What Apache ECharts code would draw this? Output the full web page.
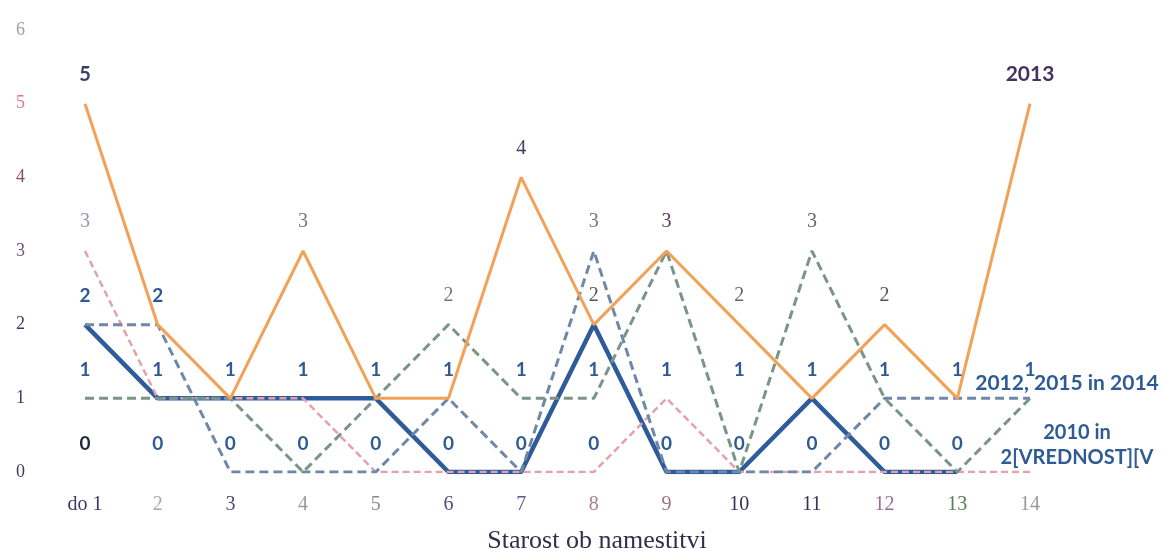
<!DOCTYPE html>
<html>
<head>
<meta charset="utf-8">
<script src="https://cdn.jsdelivr.net/npm/echarts@6/dist/echarts.min.js"></script>
<style>
html,body{margin:0;padding:0;background:#fff;}
#chart{width:1164px;height:551px;}
</style>
</head>
<body>
<div id="chart"></div>
<script>
// ---- data ----
const categories = ['do 1','2','3','4','5','6','7','8','9','10','11','12','13','14'];
const yTicks = ['0','1','2','3','4','5','6'];
const s2010 = [2,1,1,1,1,0,0,2,0,0,1,0,0,null];
const s2011 = [3,1,1,1,0,0,0,0,1,0,0,0,0,0];
const s2012 = [2,2,0,0,0,1,0,3,0,0,0,1,1,1];
const s2013 = [5,2,1,3,1,1,4,2,3,2,1,2,1,5];
const s2014 = [1,1,1,0,1,2,1,1,3,0,3,1,0,1];
const labelRowOnes = [1,1,1,1,1,1,1,1,1,1,1,1,1,1];
const labelRowZeros = [0,0,0,0,0,0,0,0,0,0,0,0,0,null];

// ---- styles (kept separate from data) ----
const xLabelColors = ['#3a3a68','#a8a8a8','#4a4a78','#9a9a9a','#8a8a8a','#5a4a7a','#5a5a8a','#b07a92','#a07084','#343450','#343450','#a06a8a','#5a7a5a','#9a9a9a'];
const yLabelColors = ['#3a3a6a','#3a3a6a','#3a3a6a','#6a5090','#8a4a6a','#d9788a','#a0a0a0'];
const BLUE = '#2f5b95';
const SANS = 'Lato, "Liberation Sans", sans-serif';
const SERIF = '"Liberation Serif", "DejaVu Serif", serif';

const baseLabel = {position:'top', distance:19};
const serifLbl = (c) => ({fontFamily:SERIF, color:c, fontSize:20});
const sansLbl = (c) => ({fontFamily:SANS, fontWeight:'bold', color:c, fontSize:19});

function withLabels(values, spec){
  return values.map((v,i) => spec[i] ? {value:v, label:Object.assign({show:true}, baseLabel, spec[i])} : v);
}

const spec2013 = {
  0: Object.assign(sansLbl('#3b3d6b'), {fontSize:20}),
  3: serifLbl('#777'),
  6: serifLbl('#3b3d6b'),
  7: serifLbl('#555'),
  8: serifLbl('#5a4060'),
  9: serifLbl('#666'),
  11: serifLbl('#5a5060'),
  13: Object.assign(sansLbl('#3f3560'), {formatter:'2013', fontSize:21})
};
const spec2011 = {
  0: serifLbl('#a38cb8'),
  13: Object.assign(sansLbl(BLUE), {formatter:'2010 in\n2[VREDNOST][V', position:'inside', offset:[47,-27], fontSize:20, lineHeight:25, align:'center'})
};
const spec2012 = {
  0: sansLbl(BLUE),
  1: sansLbl(BLUE),
  7: serifLbl('#777'),
  13: Object.assign(sansLbl(BLUE), {formatter:'2012, 2015 in 2014', position:'inside', offset:[37,-15], fontSize:21})
};
const spec2014 = {
  5: serifLbl('#777'),
  10: serifLbl('#666')
};
const specOnes = {};
labelRowOnes.forEach((v,i)=>{ specOnes[i] = sansLbl(BLUE); });
const specZeros = {};
labelRowZeros.forEach((v,i)=>{ if(v!==null) specZeros[i] = sansLbl(i===0 ? '#24283f' : BLUE); });

function lineSeries(name, data, lineStyle, z){
  return {
    name, type:'line', data, z,
    symbol:'circle', symbolSize:0, showAllSymbol:true,
    lineStyle, label:{show:false}, emphasis:{disabled:true},
    connectNulls:false
  };
}

const chart = echarts.init(document.getElementById('chart'), null, {renderer:'canvas'});
chart.setOption({
  animation:false,
  backgroundColor:'#fff',
  title:{
    text:'Starost ob namestitvi', left:592, top:523, textAlign:'center',
    textStyle:{fontFamily:SERIF, fontSize:26, fontWeight:'normal', color:'#352c4a'}
  },
  grid:{left:85, right:134, top:30, bottom:79, containLabel:false},
  xAxis:{
    type:'category', data:categories, boundaryGap:false,
    axisLine:{show:false}, axisTick:{show:false}, splitLine:{show:false},
    axisLabel:{margin:23, fontFamily:SERIF, fontSize:20, color:(v,i)=>xLabelColors[categories.indexOf(v)]}
  },
  yAxis:{
    type:'value', min:0, max:6, interval:1,
    axisLine:{show:false}, axisTick:{show:false}, splitLine:{show:false},
    axisLabel:{margin:60, fontFamily:SERIF, fontSize:18, color:(v)=>yLabelColors[yTicks.indexOf(String(v))]}
  },
  series:[
    lineSeries('2010', s2010, {color:'#2e5c9a', width:4.5}, 2),
    lineSeries('2011', withLabels(s2011, spec2011), {color:'#e3a2ab', width:2.5, type:[7,4]}, 3),
    lineSeries('2012', withLabels(s2012, spec2012), {color:'#6f88aa', width:3, type:[9,5]}, 4),
    lineSeries('2014', withLabels(s2014, spec2014), {color:'#7b9488', width:3, type:[9,5]}, 5),
    lineSeries('2013', withLabels(s2013, spec2013), {color:'#f2a257', width:3}, 6),
    lineSeries('oznake 1', withLabels(labelRowOnes, specOnes), {opacity:0, width:0}, 7),
    lineSeries('oznake 0', withLabels(labelRowZeros, specZeros), {opacity:0, width:0}, 7)
  ]
});
</script>
</body>
</html>
